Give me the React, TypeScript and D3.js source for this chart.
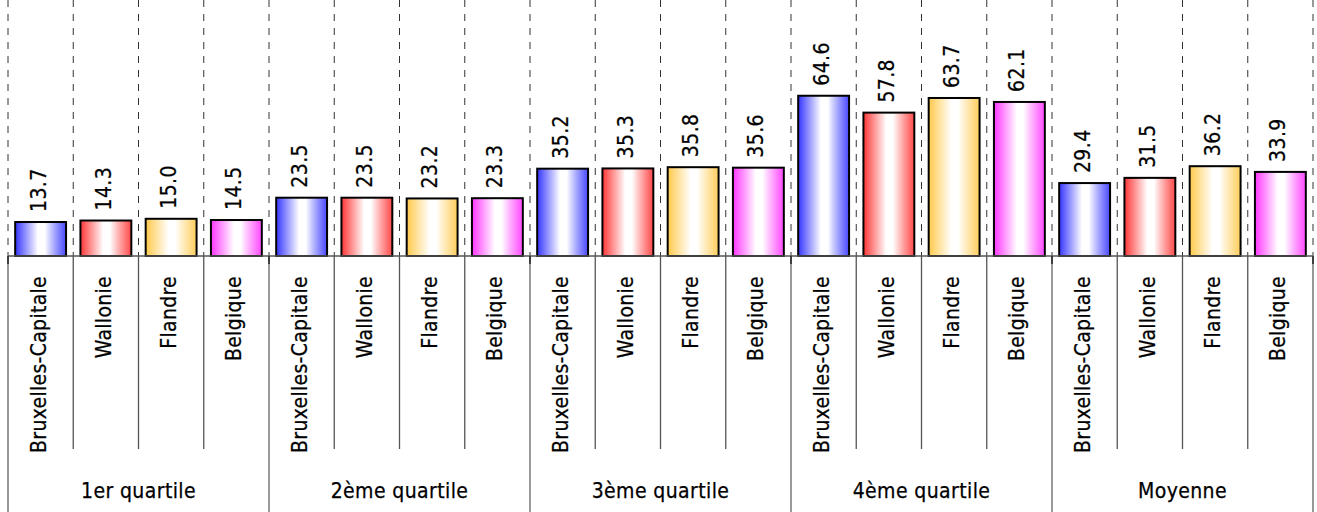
import React from "react";
import * as d3 from "d3";

const groups = ["1er quartile", "2ème quartile", "3ème quartile", "4ème quartile", "Moyenne"];
const regions = ["Bruxelles-Capitale", "Wallonie", "Flandre", "Belgique"];
const bruxelles = [13.7, 23.5, 35.2, 64.6, 29.4];
const wallonie = [14.3, 23.5, 35.3, 57.8, 31.5];
const flandre = [15.0, 23.2, 35.8, 63.7, 36.2];
const belgique = [14.5, 23.3, 35.6, 62.1, 33.9];
const seriesValues = [bruxelles, wallonie, flandre, belgique];
const regionColors = ["#3535ff", "#ff3535", "#ffc94a", "#ff35ff"];

const W = 1317;
const H = 512;
const X0 = 8;
const X1 = 1313;
const BASE = 256;
const FONT = "'DejaVu Sans Condensed', 'DejaVu Sans', sans-serif";

export default function App() {
  const items = groups.flatMap((g, gi) =>
    regions.map((r, ri) => ({ key: `${gi}-${ri}`, group: g, gi, region: r, ri, value: seriesValues[ri][gi] }))
  );
  const x = d3.scaleBand<string>().domain(items.map((d) => d.key)).range([X0, X1]).paddingInner(0.22).paddingOuter(0.11);
  const band = (X1 - X0) / items.length;
  const xg = d3.scaleBand<string>().domain(groups).range([X0, X1]);
  const y = d3.scaleLinear().domain([0, 103.2]).range([BASE, 0]);

  const boundaries = d3.range(items.length + 1).map((i) => X0 + i * band);
  const textProps = { fontFamily: FONT, fontSize: 21, fill: "#000", stroke: "#000", strokeWidth: 0.25 };

  return (
    <svg width={W} height={H} style={{ position: "absolute", left: 0, top: 0, background: "#fff" }}>
      <defs>
        {regionColors.map((c, i) => (
          <linearGradient key={i} id={`g${i}`} x1="0" x2="1" y1="0" y2="0">
            <stop offset="0" stopColor={c} />
            <stop offset="0.45" stopColor="#ffffff" />
            <stop offset="0.58" stopColor="#ffffff" />
            <stop offset="1" stopColor={c} stopOpacity={0.9} />
          </linearGradient>
        ))}
      </defs>
      {boundaries.map((bx, i) => (
        <line key={`d${i}`} x1={bx} x2={bx} y1={0} y2={BASE} stroke="#333" strokeWidth={1} strokeDasharray="7,7" />
      ))}
      {items.map((d) => (
        <rect
          key={d.key}
          x={x(d.key)!}
          y={y(d.value)}
          width={x.bandwidth()}
          height={BASE - y(d.value)}
          fill={`url(#g${d.ri})`}
          stroke="#000"
          strokeWidth={2}
        />
      ))}
      {items.map((d) => {
        const cx = x(d.key)! + x.bandwidth() / 2 + 5;
        const ty = y(d.value) - 10;
        return (
          <text
            key={`v${d.key}`}
            transform={`translate(${cx},${ty}) rotate(-90)`}
            {...textProps}
            letterSpacing={0.4}
            textAnchor="start"
          >
            {d.value.toFixed(1)}
          </text>
        );
      })}
      <line x1={X0} x2={X1} y1={BASE} y2={BASE} stroke="#555" strokeWidth={1.3} />
      {boundaries.map((bx, i) =>
        i % 4 === 0 ? null : (
          <line key={`s${i}`} x1={bx} x2={bx} y1={BASE} y2={449} stroke="#555" strokeWidth={1.3} />
        )
      )}
      {xg.domain().concat(["end"]).map((g, i) => {
        const gx = X0 + i * xg.bandwidth();
        return (
          <g key={`gs${i}`}>
            <line x1={gx} x2={gx} y1={BASE} y2={H} stroke="#777" strokeWidth={1.5} />
            <line x1={gx} x2={gx} y1={BASE} y2={BASE + 8} stroke="#222" strokeWidth={1.5} />
          </g>
        );
      })}
      {items.map((d) => {
        const cx = x(d.key)! + x.bandwidth() / 2 + 5;
        return (
          <text
            key={`c${d.key}`}
            transform={`translate(${cx},276) rotate(-90)`}
            {...textProps}
            letterSpacing={0.3}
            textAnchor="end"
          >
            {d.region}
          </text>
        );
      })}
      {groups.map((g) => (
        <text
          key={`gl${g}`}
          x={xg(g)! + xg.bandwidth() / 2}
          y={498}
          {...textProps}
          letterSpacing={0.4}
          textAnchor="middle"
        >
          {g}
        </text>
      ))}
    </svg>
  );
}
